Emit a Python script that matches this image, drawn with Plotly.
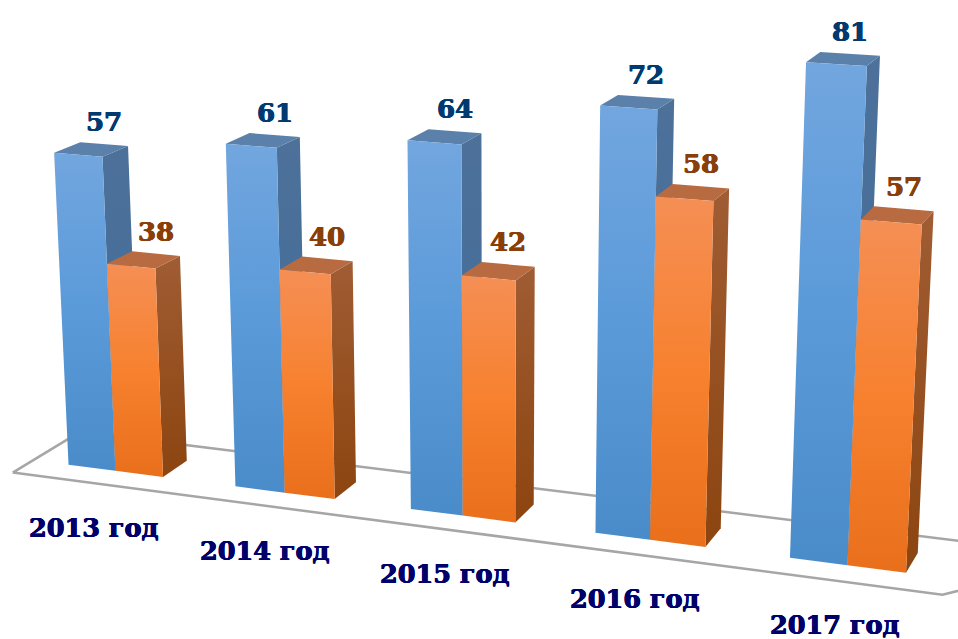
import numpy as np
import plotly.graph_objects as go

categories = ["2013 год", "2014 год", "2015 год", "2016 год", "2017 год"]
series_a = [57, 61, 64, 72, 81]
series_b = [38, 40, 42, 58, 57]

# Perspective camera of the 3D scene: (group, depth, value) -> screen
CAMERA = np.array([
    [161.188457, 26.7951452, -0.2841399, 68.54054],
    [9.733348, -7.6737503, -5.5612104, 464.7437825],
    [-0.0242693, 0.0178247, -0.0005743, 1.0],
])
BAR_W = 0.286
FLOOR_X = (-0.218, 4.79)
FLOOR_Y = (-0.775, 1.85)
CAT_DEPTH = -0.7

STYLE = [
    dict(front=["#4a8bca", "#5a9ad9", "#72a6df"], side=["#3f6c99", "#4d7199"], top="#5b80aa", text="#003a70"),
    dict(front=["#e96f1b", "#f7812f", "#f58f55"], side=["#8c4510", "#a05c33"], top="#b86b40", text="#8a3f0a"),
]
CAT_COLOR = "#00006b"
FONT = "DejaVu Serif"


def project(x, y, z):
    h = CAMERA @ np.array([x, y, z, 1.0])
    return h[0] / h[2], h[1] / h[2]


def poly(corners):
    p = [project(*c) for c in corners]
    p.append(p[0])
    return [q[0] for q in p], [q[1] for q in p]


def scale(cols):
    n = len(cols) - 1
    return [[k / n, c] for k, c in enumerate(cols)]


def heavy(color):
    return f"0.5px 0 0 {color}, -0.5px 0 0 {color}, 0 0.4px 0 {color}"


fig = go.Figure()


def face(corners, colors):
    xs, ys = poly(corners)
    kw = dict(fillcolor=colors) if isinstance(colors, str) else dict(
        fillgradient=dict(type="vertical", colorscale=scale(colors)))
    fig.add_trace(go.Scatter(x=xs, y=ys, mode="lines", fill="toself", line=dict(width=0),
                             hoverinfo="skip", showlegend=False, **kw))


# floor
xs, ys = poly([(FLOOR_X[0], FLOOR_Y[0], 0), (FLOOR_X[1], FLOOR_Y[0], 0),
               (FLOOR_X[1] + 0.6, FLOOR_Y[1], 0), (FLOOR_X[0], FLOOR_Y[1], 0)])
fig.add_trace(go.Scatter(x=xs, y=ys, mode="lines", line=dict(color="#a6a6a6", width=2.5),
                         hoverinfo="skip", showlegend=False))

ann = []
for g, cat in enumerate(categories):
    for s, v in enumerate((series_a[g], series_b[g])):
        st = STYLE[s]
        x0, x1 = g + s * BAR_W, g + (s + 1) * BAR_W
        face([(x1, 0, 0), (x1, 1, 0), (x1, 1, v), (x1, 0, v)], st["side"])
        face([(x0, 0, v), (x1, 0, v), (x1, 1, v), (x0, 1, v)], st["top"])
        face([(x0, 0, 0), (x1, 0, 0), (x1, 0, v), (x0, 0, v)], st["front"])
        lx, ly = project((x0 + x1) / 2, 1, v)
        ann.append(dict(x=lx, y=ly, yshift=22, text=f"<b>{v}</b>", showarrow=False,
                        xanchor="center", yanchor="middle",
                        font=dict(family=FONT, size=26, color=st["text"], shadow=heavy(st["text"]))))
    cx, cy = project(g + BAR_W, CAT_DEPTH, 0)
    ann.append(dict(x=cx, y=cy, xshift=-4, yshift=-46, text=f"<b>{cat}</b>", showarrow=False,
                    xanchor="center", yanchor="middle",
                    font=dict(family=FONT, size=25.5, color=CAT_COLOR, shadow=heavy(CAT_COLOR))))

fig.update_layout(
    width=958, height=639, margin=dict(l=0, r=0, t=0, b=0),
    paper_bgcolor="white", plot_bgcolor="white", showlegend=False, annotations=ann,
    xaxis=dict(range=[0, 958], visible=False, fixedrange=True),
    yaxis=dict(range=[639, 0], visible=False, fixedrange=True),
)
fig.write_html("out.html", config=dict(displayModeBar=False),
               post_script="document.body.style.margin='0';document.body.style.overflow='hidden';")
